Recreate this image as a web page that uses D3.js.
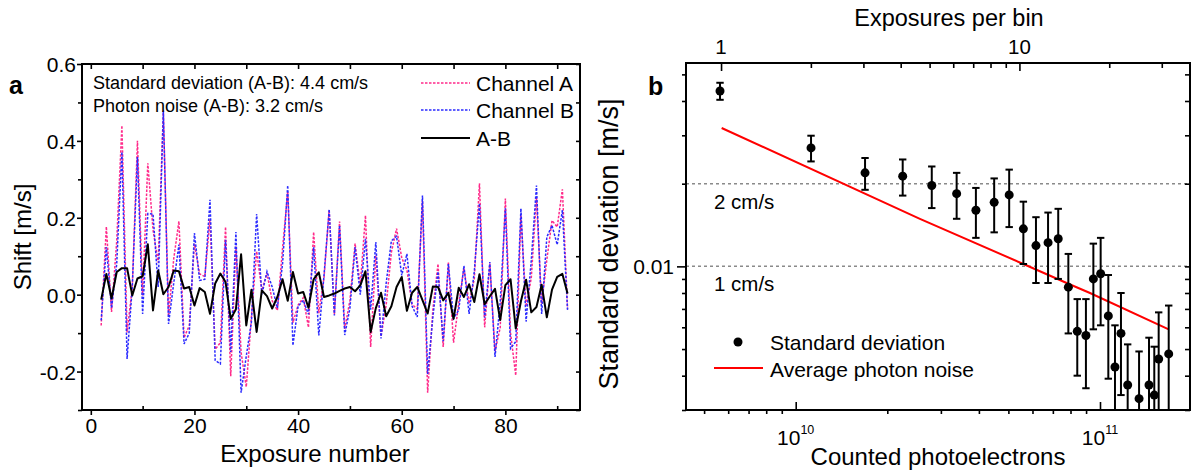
<!DOCTYPE html>
<html lang="en">
<head>
<meta charset="UTF-8">
<title>Channel shifts and binned standard deviation</title>
<script src="https://cdn.jsdelivr.net/npm/d3@7"></script>
<style>
  body { margin: 0; background: #fff; }
  svg text { font-family: "Liberation Sans", Arial, sans-serif; fill: #000; }
</style>
</head>
<body>
<script>
// ---------- panel a: shift per exposure ----------
const exposure = d3.range(2, 93);
const channelA = [
  -0.080, 0.177, -0.045, 0.139, 0.440, -0.098, 0.018, 0.400, -0.002, 0.342,
  0.169, 0.083, 0.479, -0.056, 0.093, 0.191, -0.112, -0.080, 0.132, 0.054,
  0.047, 0.197, -0.142, -0.125, 0.176, -0.212, 0.125, -0.150, -0.240, -0.057,
  0.113, 0.011, 0.056, -0.016, -0.041, 0.120, 0.268, -0.073, -0.027, -0.008,
  -0.085, 0.163, -0.048, 0.044, 0.220, -0.051, 0.190, -0.089, -0.015, 0.133,
  0.024, 0.206, -0.136, 0.102, -0.109, -0.026, 0.110, 0.172, 0.096, 0.064,
  -0.025, -0.038, 0.244, -0.255, -0.039, 0.080, -0.136, 0.085, -0.125, -0.022,
  0.069, -0.023, 0.041, 0.290, -0.085, 0.081, -0.147, -0.086, 0.250, -0.100,
  -0.210, 0.207, -0.031, 0.044, 0.252, -0.024, 0.091, 0.193, 0.176, 0.274, -0.037
];
const channelB = [
  -0.067, 0.124, -0.035, 0.080, 0.371, -0.167, 0.020, 0.358, -0.050, 0.211,
  0.210, 0.020, 0.478, -0.076, 0.030, 0.130, -0.128, -0.100, 0.160, 0.037,
  0.040, 0.247, -0.171, -0.180, 0.143, -0.149, 0.163, -0.255, -0.160, -0.070,
  0.210, 0.000, 0.060, 0.020, -0.035, 0.080, 0.284, -0.132, -0.030, -0.015,
  -0.051, 0.123, -0.106, 0.050, 0.222, -0.054, 0.180, -0.105, -0.035, 0.124,
  0.000, 0.145, -0.039, 0.137, -0.114, 0.030, 0.140, 0.152, 0.050, 0.106,
  -0.030, -0.058, 0.258, -0.206, -0.060, 0.060, -0.121, 0.080, -0.062, -0.040,
  0.075, -0.050, 0.060, 0.237, -0.060, 0.085, -0.162, -0.020, 0.225, -0.140,
  -0.122, 0.224, -0.070, 0.090, 0.284, -0.050, 0.150, 0.180, 0.130, 0.220, -0.040
];
const diffAB = [
  -0.013, 0.054, -0.010, 0.059, 0.069, 0.069, -0.002, 0.042, 0.048, 0.131,
  -0.041, 0.063, 0.001, 0.020, 0.063, 0.061, 0.016, 0.020, -0.028, 0.017,
  0.007, -0.050, 0.029, 0.055, 0.033, -0.063, -0.038, 0.105, -0.080, 0.013,
  -0.097, 0.011, -0.004, -0.036, -0.006, 0.040, -0.016, 0.059, 0.003, 0.007,
  -0.034, 0.040, 0.058, -0.006, -0.002, 0.003, 0.010, 0.016, 0.020, 0.009,
  0.024, 0.061, -0.097, -0.035, 0.005, -0.056, -0.030, 0.020, 0.046, -0.042,
  0.005, 0.020, -0.014, -0.049, 0.021, 0.020, -0.015, 0.005, -0.063, 0.018,
  -0.006, 0.027, -0.019, 0.053, -0.025, -0.004, 0.015, -0.066, 0.025, 0.040,
  -0.088, -0.017, 0.039, -0.046, -0.032, 0.026, -0.059, 0.013, 0.046, 0.054, 0.003
];
const shiftTicks = [-0.2, 0, 0.2, 0.4, 0.6];
const shiftMinor = [-0.3, -0.1, 0.1, 0.3, 0.5];
const exposureTicks = [0, 20, 40, 60, 80];
const exposureMinor = [10, 30, 50, 70, 90];

// ---------- panel b: standard deviation vs counted photoelectrons ----------
const photoelectrons = [5.64e9, 1.123e10, 1.69e10, 2.247e10, 2.80e10, 3.38e10, 3.91e10, 4.49e10, 5.03e10,
  5.60e10, 6.16e10, 6.75e10, 7.29e10, 7.87e10, 8.42e10, 8.99e10, 9.51e10, 1.005e11, 1.065e11,
  1.12e11, 1.172e11, 1.233e11, 1.344e11, 1.449e11, 1.508e11, 1.559e11, 1.682e11];
const stdDev = [0.0435, 0.0270, 0.0219, 0.0213, 0.0197, 0.0184, 0.0160, 0.0171, 0.0182,
  0.0137, 0.0119, 0.0122, 0.0126, 0.0084, 0.0058, 0.0056, 0.0090, 0.0094, 0.0066,
  0.0043, 0.0057, 0.0037, 0.0033, 0.0037, 0.0034, 0.0046, 0.0048];
const stdErr = [0.0031, 0.0029, 0.0029, 0.0032, 0.0034, 0.0035, 0.0033, 0.0038, 0.0043,
  0.0035, 0.0032, 0.0035, 0.0036, 0.0027, 0.0018, 0.0020, 0.0031, 0.0033, 0.0027,
  0.0018, 0.0023, 0.0015, 0.0016, 0.0018, 0.0017, 0.0022, 0.0024];
const noiseN = [5.71e9, 2.56e10, 5.60e10, 7.77e10, 9.27e10, 1.682e11];
const noiseSd = [0.0319, 0.0149, 0.0102, 0.0087, 0.0080, 0.0059];
const refLevels = [0.02, 0.01];
const refLabels = ["2 cm/s", "1 cm/s"];
const sdMinor = [0.003, 0.004, 0.005, 0.006, 0.007, 0.008, 0.009, 0.02, 0.03, 0.04, 0.05];
const peMajor = [1e10, 1e11];
const peMinor = [5e9, 6e9, 7e9, 8e9, 9e9, 2e10, 3e10, 4e10, 5e10, 6e10, 7e10, 8e10, 9e10];
const binMajor = [1, 10];
const binMinor = [2, 3, 4, 5, 6, 7, 8, 9, 20, 30];

const width = 1192, height = 470;
const svg = d3.select("body").append("svg")
    .attr("width", width)
    .attr("height", height);

const pinkColor = "#ff2a8a", blueColor = "#2a2aff";

// ===== panel a =====
const a = { left: 82, right: 580, top: 64, bottom: 410 };
const xA = d3.scaleLinear().domain([-1.7, 94.4]).range([a.left, a.right]);
const yA = d3.scaleLinear().domain([-0.3, 0.6]).range([a.bottom, a.top]);

function tickAxis(axis, transform, size) {
    const g = svg.append("g")
        .attr("transform", transform)
        .call(axis.tickSize(size));
    g.select(".domain").remove();
    g.selectAll("line").attr("stroke", "#000").attr("stroke-width", 1.6);
    return g;
}

// minor + mirror ticks
tickAxis(d3.axisLeft(yA).tickValues(shiftMinor).tickFormat(""), `translate(${a.left},0)`, 4);
tickAxis(d3.axisRight(yA).tickValues(shiftTicks.concat(shiftMinor)).tickFormat(""), `translate(${a.right},0)`, -4);
tickAxis(d3.axisBottom(xA).tickValues(exposureMinor).tickFormat(""), `translate(0,${a.bottom})`, -4);
tickAxis(d3.axisTop(xA).tickValues(exposureTicks.concat(exposureMinor)).tickFormat(""), `translate(0,${a.top})`, -5);

const leftA = tickAxis(d3.axisLeft(yA).tickValues(shiftTicks).tickPadding(1).tickFormat(d => d.toFixed(1)),
    `translate(${a.left},0)`, 5);
leftA.selectAll("text").style("font-size", "21px").attr("dy", "0.36em");
const bottomA = tickAxis(d3.axisBottom(xA).tickValues(exposureTicks).tickPadding(3),
    `translate(0,${a.bottom})`, 5);
bottomA.selectAll("text").style("font-size", "21px");

const lineA = d3.line().x((d, i) => xA(exposure[i])).y(d => yA(d));

svg.append("path").datum(channelA)
    .attr("d", lineA).attr("fill", "none")
    .attr("stroke", pinkColor).attr("stroke-width", 1.5)
    .attr("stroke-dasharray", "2.5,1.5");
svg.append("path").datum(channelB)
    .attr("d", lineA).attr("fill", "none")
    .attr("stroke", blueColor).attr("stroke-width", 1.5)
    .attr("stroke-dasharray", "2.5,1.5");
svg.append("path").datum(diffAB)
    .attr("d", lineA).attr("fill", "none")
    .attr("stroke", "#000").attr("stroke-width", 2)
    .attr("stroke-linejoin", "round");

svg.append("rect")
    .attr("x", a.left).attr("y", a.top)
    .attr("width", a.right - a.left).attr("height", a.bottom - a.top)
    .attr("fill", "none").attr("stroke", "#000").attr("stroke-width", 2);

// annotation + legend
svg.append("text").attr("x", 93).attr("y", 89).style("font-size", "18px")
    .text("Standard deviation (A-B): 4.4 cm/s");
svg.append("text").attr("x", 93).attr("y", 111.5).style("font-size", "18px")
    .text("Photon noise (A-B): 3.2 cm/s");

const legendA = [
    { label: "Channel A", color: pinkColor, dash: "2.5,1.5", w: 1.5, y: 83 },
    { label: "Channel B", color: blueColor, dash: "2.5,1.5", w: 1.5, y: 110 },
    { label: "A-B", color: "#000", dash: null, w: 2, y: 138 }
];
legendA.forEach(d => {
    svg.append("line").attr("x1", 421).attr("x2", 470).attr("y1", d.y).attr("y2", d.y)
        .attr("stroke", d.color).attr("stroke-width", d.w)
        .attr("stroke-dasharray", d.dash);
    svg.append("text").attr("x", 476).attr("y", d.y + 8).style("font-size", "21px").text(d.label);
});

svg.append("text").attr("x", 9).attr("y", 94)
    .style("font-size", "25px").style("font-weight", "bold").text("a");
svg.append("text")
    .attr("transform", `translate(31,${(a.top + a.bottom) / 2}) rotate(-90)`)
    .attr("text-anchor", "middle").style("font-size", "24px").text("Shift [m/s]");
svg.append("text").attr("x", 315).attr("y", 462)
    .attr("text-anchor", "middle").style("font-size", "24px").text("Exposure number");

// ===== panel b =====
const b = { left: 686, right: 1190, top: 63, bottom: 410 };
const xB = d3.scaleLog().domain([4.36e9, 1.976e11]).range([b.left, b.right]);
const yB = d3.scaleLog().domain([0.003, 0.055]).range([b.bottom, b.top]);
const xTop = d3.scaleLog().domain([0.763, 37.3]).range([b.left, b.right]);

svg.append("clipPath").attr("id", "clipB")
    .append("rect").attr("x", b.left).attr("y", b.top)
    .attr("width", b.right - b.left).attr("height", b.bottom - b.top);

// reference levels
refLevels.forEach((v, i) => {
    svg.append("line").attr("x1", b.left).attr("x2", b.right)
        .attr("y1", yB(v)).attr("y2", yB(v))
        .attr("stroke", "#8a8a8a").attr("stroke-width", 1.5).attr("stroke-dasharray", "3,3");
    svg.append("text").attr("x", 714).attr("y", yB(v) + 25)
        .style("font-size", "20.5px").text(refLabels[i]);
});

// ticks
tickAxis(d3.axisLeft(yB).tickValues(sdMinor).tickFormat(""), `translate(${b.left},0)`, 4);
tickAxis(d3.axisRight(yB).tickValues(sdMinor.concat([0.01])).tickFormat(""), `translate(${b.right},0)`, -5);
tickAxis(d3.axisBottom(xB).tickValues(peMinor).tickFormat(""), `translate(0,${b.bottom})`, 4);
tickAxis(d3.axisTop(xTop).tickValues(binMinor).tickFormat(""), `translate(0,${b.top})`, -5);
tickAxis(d3.axisTop(xTop).tickValues(binMajor).tickFormat(""), `translate(0,${b.top})`, -8);
tickAxis(d3.axisBottom(xB).tickValues(peMajor).tickFormat(""), `translate(0,${b.bottom})`, -8);

const leftB = tickAxis(d3.axisLeft(yB).tickValues([0.01]).tickPadding(3).tickFormat(d => "0.01"),
    `translate(${b.left},0)`, 9);
leftB.selectAll("text").style("font-size", "21px").attr("dy", "0.36em");

// bottom labels 10^n
peMajor.forEach(v => {
    const t = svg.append("text").attr("x", xB(v)).attr("y", 445)
        .attr("text-anchor", "middle").style("font-size", "21px");
    t.append("tspan").text("10");
    t.append("tspan").attr("dy", -11).style("font-size", "12.5px").text(Math.round(Math.log10(v)));
});
// top labels
binMajor.forEach(v => {
    svg.append("text").attr("x", xTop(v)).attr("y", 54)
        .attr("text-anchor", "middle").style("font-size", "20.5px").text(v);
});

// photon noise line
const noiseLine = d3.line().x((d, i) => xB(noiseN[i])).y(d => yB(d));
svg.append("path").datum(noiseSd)
    .attr("d", noiseLine).attr("fill", "none")
    .attr("stroke", "#ff0000").attr("stroke-width", 2);

// error bars + points
const pts = svg.append("g").attr("clip-path", "url(#clipB)");
const cap = 3.7;
stdDev.forEach((v, i) => {
    const x = xB(photoelectrons[i]);
    const y1 = yB(v + stdErr[i]), y0 = yB(v - stdErr[i]);
    pts.append("line").attr("x1", x).attr("x2", x).attr("y1", y1).attr("y2", y0)
        .attr("stroke", "#000").attr("stroke-width", 2);
    [y0, y1].forEach(yy => {
        pts.append("line").attr("x1", x - cap).attr("x2", x + cap).attr("y1", yy).attr("y2", yy)
            .attr("stroke", "#000").attr("stroke-width", 2);
    });
    pts.append("circle").attr("cx", x).attr("cy", yB(v)).attr("r", 4.5).attr("fill", "#000");
});

svg.append("rect")
    .attr("x", b.left).attr("y", b.top)
    .attr("width", b.right - b.left).attr("height", b.bottom - b.top)
    .attr("fill", "none").attr("stroke", "#000").attr("stroke-width", 2);

// legend b
svg.append("circle").attr("cx", 738).attr("cy", 342).attr("r", 4.5).attr("fill", "#000");
svg.append("text").attr("x", 770).attr("y", 350).style("font-size", "21px").text("Standard deviation");
svg.append("line").attr("x1", 714).attr("x2", 763).attr("y1", 368).attr("y2", 368)
    .attr("stroke", "#ff0000").attr("stroke-width", 2);
svg.append("text").attr("x", 770).attr("y", 376.5).style("font-size", "21px").text("Average photon noise");

svg.append("text").attr("x", 648).attr("y", 95)
    .style("font-size", "25px").style("font-weight", "bold").text("b");
svg.append("text")
    .attr("transform", `translate(618,244) rotate(-90)`)
    .attr("text-anchor", "middle").style("font-size", "27px").text("Standard deviation [m/s]");
svg.append("text").attr("x", 938).attr("y", 465)
    .attr("text-anchor", "middle").style("font-size", "24px").text("Counted photoelectrons");
svg.append("text").attr("x", 949).attr("y", 26)
    .attr("text-anchor", "middle").style("font-size", "23.5px").text("Exposures per bin");
</script>
</body>
</html>
